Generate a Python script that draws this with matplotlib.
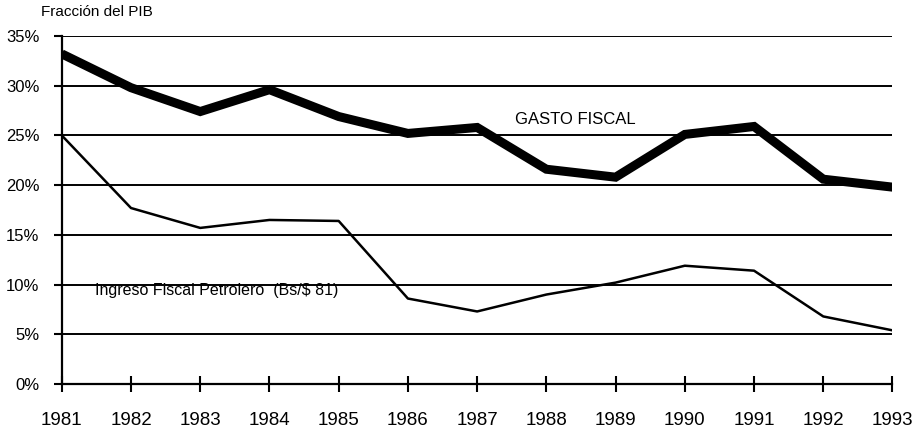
"""Gasto fiscal vs ingreso fiscal petrolero, fraccion del PIB (1981-1993)."""
import matplotlib
matplotlib.use("Agg")
import matplotlib.pyplot as plt
from matplotlib.ticker import FuncFormatter

plt.rcParams["font.family"] = ["Liberation Sans", "DejaVu Sans"]

years = list(range(1981, 1994))
gasto_fiscal = [33.2, 29.8, 27.4, 29.6, 26.9, 25.2, 25.8, 21.6, 20.8, 25.1, 25.9, 20.6, 19.8]
ingreso_petrolero = [25.0, 17.7, 15.7, 16.5, 16.4, 8.6, 7.3, 9.0, 10.2, 11.9, 11.4, 6.8, 5.4]
y_ticks = [0, 5, 10, 15, 20, 25, 30, 35]

fig = plt.figure(figsize=(9.22, 4.44), dpi=100)
ax = fig.add_axes([0.067, 0.135, 0.901, 0.784])

for v in y_ticks[1:]:
    ax.axhline(v, color="black", lw=1.4, zorder=1)

ax.plot(years, gasto_fiscal, color="black", lw=6.5, solid_joinstyle="miter",
        solid_capstyle="butt", zorder=3)
ax.plot(years, ingreso_petrolero, color="black", lw=1.8, zorder=3)

ax.set_xlim(years[0], years[-1])
ax.set_ylim(0, 35)
ax.set_xticks(years)
ax.set_yticks(y_ticks)
ax.yaxis.set_major_formatter(FuncFormatter(lambda v, _: f"{v:.0f}%"))

for side in ("top", "right"):
    ax.spines[side].set_visible(False)
for side in ("left", "bottom"):
    ax.spines[side].set_linewidth(1.6)
    ax.spines[side].set_zorder(2)

ax.tick_params(axis="x", direction="inout", length=12, width=1.5, pad=14,
               labelsize=13.5)
ax.tick_params(axis="y", direction="out", length=6, width=1.5, pad=10,
               labelsize=12)

ax.text(1987.55, 26.6, "GASTO FISCAL", fontsize=12, va="center", ha="left")
ax.text(1981.48, 9.4, "Ingreso Fiscal Petrolero  (Bs/$ 81)", fontsize=11.5,
        va="center", ha="left")
fig.text(0.044, 0.972, "Fracción del PIB", fontsize=11, va="center", ha="left")

fig.savefig("out.png", dpi=100)
